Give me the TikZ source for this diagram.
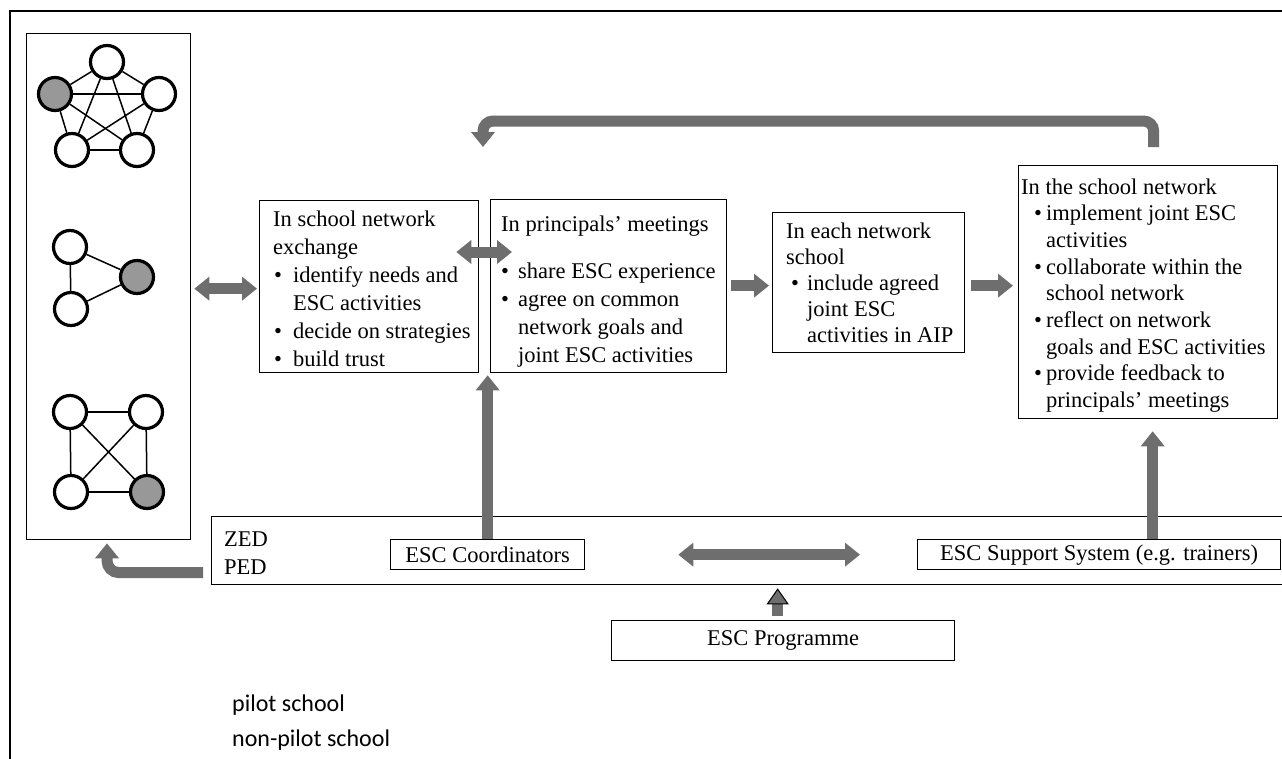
\documentclass[tikz,border=0pt]{standalone}
\usepackage{fontspec}
\setmainfont{Liberation Serif}
\newfontfamily\legendfont{Carlito}
\usetikzlibrary{arrows.meta,calc}
\definecolor{arrowgray}{RGB}{110,110,110}
\definecolor{pilotgray}{RGB}{152,152,152}
\newcommand{\bl}[2]{\makebox[#2][l]{\hspace{#1}\textbullet}}
\newcommand{\hd}[1]{\multicolumn{2}{@{}l@{}}{#1}}
\begin{document}
\begin{tikzpicture}[x=1pt,y=-1pt,
  box/.style={draw=black, line width=1.3pt, inner sep=0pt, anchor=north west},
  txt/.style={anchor=base west, inner sep=0pt},
  school/.style={circle, draw=black, line width=3.2pt, minimum size=33pt, inner sep=0pt, fill=white},
  pilot/.style={school, fill=pilotgray},
  link/.style={draw=black, line width=1.5pt},
  flow/.style={draw=arrowgray, line width=11pt, -{Triangle[width=23pt,length=15pt]}},
  bothflow/.style={draw=arrowgray, line width=11pt, {Triangle[width=23pt,length=15pt]}-{Triangle[width=23pt,length=15pt]}},
  legend/.style={anchor=west, inner sep=0pt, font=\legendfont\fontsize{24}{28}\selectfont},
  font=\fontsize{22.5}{28}\selectfont]
\useasboundingbox (0,0) rectangle (1282,758);
\fill[white] (0,0) rectangle (1282,758);
% outer frame
\draw[line width=2.2pt] (10,770) -- (10,11) -- (1295,11);

% network box and graphs
\node[box, minimum width=164pt, minimum height=506pt] (net) at (26,33) {};
\node[school] (pa) at (107,62) {};
\node[pilot]  (pb) at (55,94) {};
\node[school] (pc) at (159,94) {};
\node[school] (pd) at (72,150) {};
\node[school] (pe) at (137,150) {};
\foreach \u/\v in {pa/pb,pa/pc,pa/pd,pa/pe,pb/pc,pb/pd,pb/pe,pc/pd,pc/pe,pd/pe}
  \draw[link] (\u) -- (\v);
\node[school] (ta) at (70,247) {};
\node[pilot]  (tb) at (137,277) {};
\node[school] (tc) at (71,309) {};
\foreach \u/\v in {ta/tb,ta/tc,tb/tc}
  \draw[link] (\u) -- (\v);
\node[school] (qa) at (70,412) {};
\node[school] (qb) at (146,412) {};
\node[school] (qc) at (71,492) {};
\node[pilot]  (qd) at (147,492) {};
\foreach \u/\v in {qa/qb,qa/qc,qa/qd,qb/qc,qb/qd,qc/qd}
  \draw[link] (\u) -- (\v);

% box 1
\node[box, minimum width=219pt, minimum height=172pt] (b1) at (259,200) {};
\node[txt] (b1t) at (273,226) {\begin{tabular}[t]{@{}l@{}l@{}}
\hd{In school network}\\
\hd{exchange}\\
\bl{1pt}{20pt} & identify needs and\\
 & ESC activities\\
\bl{1pt}{20pt} & decide on strategies\\
\bl{1pt}{20pt} & build trust
\end{tabular}};

% box 2
\node[box, minimum width=236pt, minimum height=173pt] (b2) at (490,199) {};
\node[txt] (b2t) at (501,231) {\begin{tabular}[t]{@{}l@{}l@{}}
\hd{In principals' meetings}\\[19pt]
\bl{0pt}{17pt} & share ESC experience\\
\bl{0pt}{17pt} & agree on common\\
 & network goals and\\
 & joint ESC activities
\end{tabular}};

% box 3
\node[box, minimum width=192pt, minimum height=140pt] (b3) at (772,212) {};
\node[txt, font=\fontsize{22.5}{26}\selectfont] (b3t) at (786,238) {\begin{tabular}[t]{@{}l@{}l@{}}
\hd{In each network}\\
\hd{school}\\
\bl{5pt}{21pt} & include agreed\\
 & joint ESC\\
 & activities in AIP
\end{tabular}};

% box 4
\node[box, minimum width=259pt, minimum height=253pt] (b4) at (1018,165) {};
\node[txt, font=\fontsize{22.5}{26.7}\selectfont] (b4t) at (1021,194) {\begin{tabular}[t]{@{}l@{}l@{}}
\hd{In the school network}\\
\bl{13pt}{25pt} & implement joint ESC\\
 & activities\\
\bl{13pt}{25pt} & collaborate within the\\
 & school network\\
\bl{13pt}{25pt} & reflect on network\\
 & goals and ESC activities\\
\bl{13pt}{25pt} & provide feedback to\\
 & principals' meetings
\end{tabular}};

% lower part
\node[box, minimum width=1080pt, minimum height=68pt] (zed) at (211,516) {};
\node[txt] (zedt) at (224,546) {\begin{tabular}[t]{@{}l@{}}ZED\\PED\end{tabular}};
\node[box, minimum width=194pt, minimum height=30pt] (coord) at (390,539) {ESC Coordinators};
\node[box, minimum width=363pt, minimum height=30pt] (supp) at (917,539) {ESC Support System (e.g. trainers)};
\node[box, minimum width=343pt, minimum height=40pt] (prog) at (611,620) {ESC Programme};

% legend
\node[legend] (leg1) at (232,705) {pilot school};
\node[legend] (leg2) at (232,740) {non-pilot school};

% connectors
\draw[bothflow, shorten <=3pt, shorten >=2pt] ($(net.east |- b1.west)+(0,2)$) -- ($(b1.west)+(0,2)$);
\draw[bothflow] ($(b1.north east)+(-23,52)$) -- ($(b2.north west)+(22,53)$);
\draw[flow, shorten <=4pt, shorten >=3pt] ($(b2.east |- b3.west)+(0,3)$) -- ($(b3.west)+(0,3)$);
\draw[flow, shorten <=6pt, shorten >=5pt] ($(b3.east)+(0,3)$) -- ($(b3.east -| b4.west)+(0,3)$);
\draw[flow, shorten >=2pt] (coord.north) -- (coord.north |- b2.south);
\coordinate (b4in) at ($(b4.south)+(4.5,0)$);
\draw[flow, shorten >=12pt] (b4in |- supp.north) -- (b4in);
\coordinate (fbs) at ($(b4.north)+(5.5,-18)$);
\coordinate (fbe) at ($(b2.north west)+(-7,-52)$);
\draw[flow, rounded corners=10pt] (fbs) -- ++(0,-26) -| (fbe);
\coordinate (zs) at ($(zed.west)+(-8,22)$);
\coordinate (ze) at ($(net.south west)+(81,3)$);
\draw[flow, rounded corners=12pt] (zs) -| (ze);
\draw[bothflow, shorten <=93pt, shorten >=57pt] (coord.east) -- (supp.west);
\coordinate (pup) at ($(prog.north)+(-5.5,-4)$);
\draw[draw=arrowgray, line width=11pt, shorten >=3pt,
  -{Triangle[width=22pt,length=16pt,line width=1pt,color=black,fill=arrowgray]}]
  (pup) -- (pup |- zed.south);
\end{tikzpicture}
\end{document}
